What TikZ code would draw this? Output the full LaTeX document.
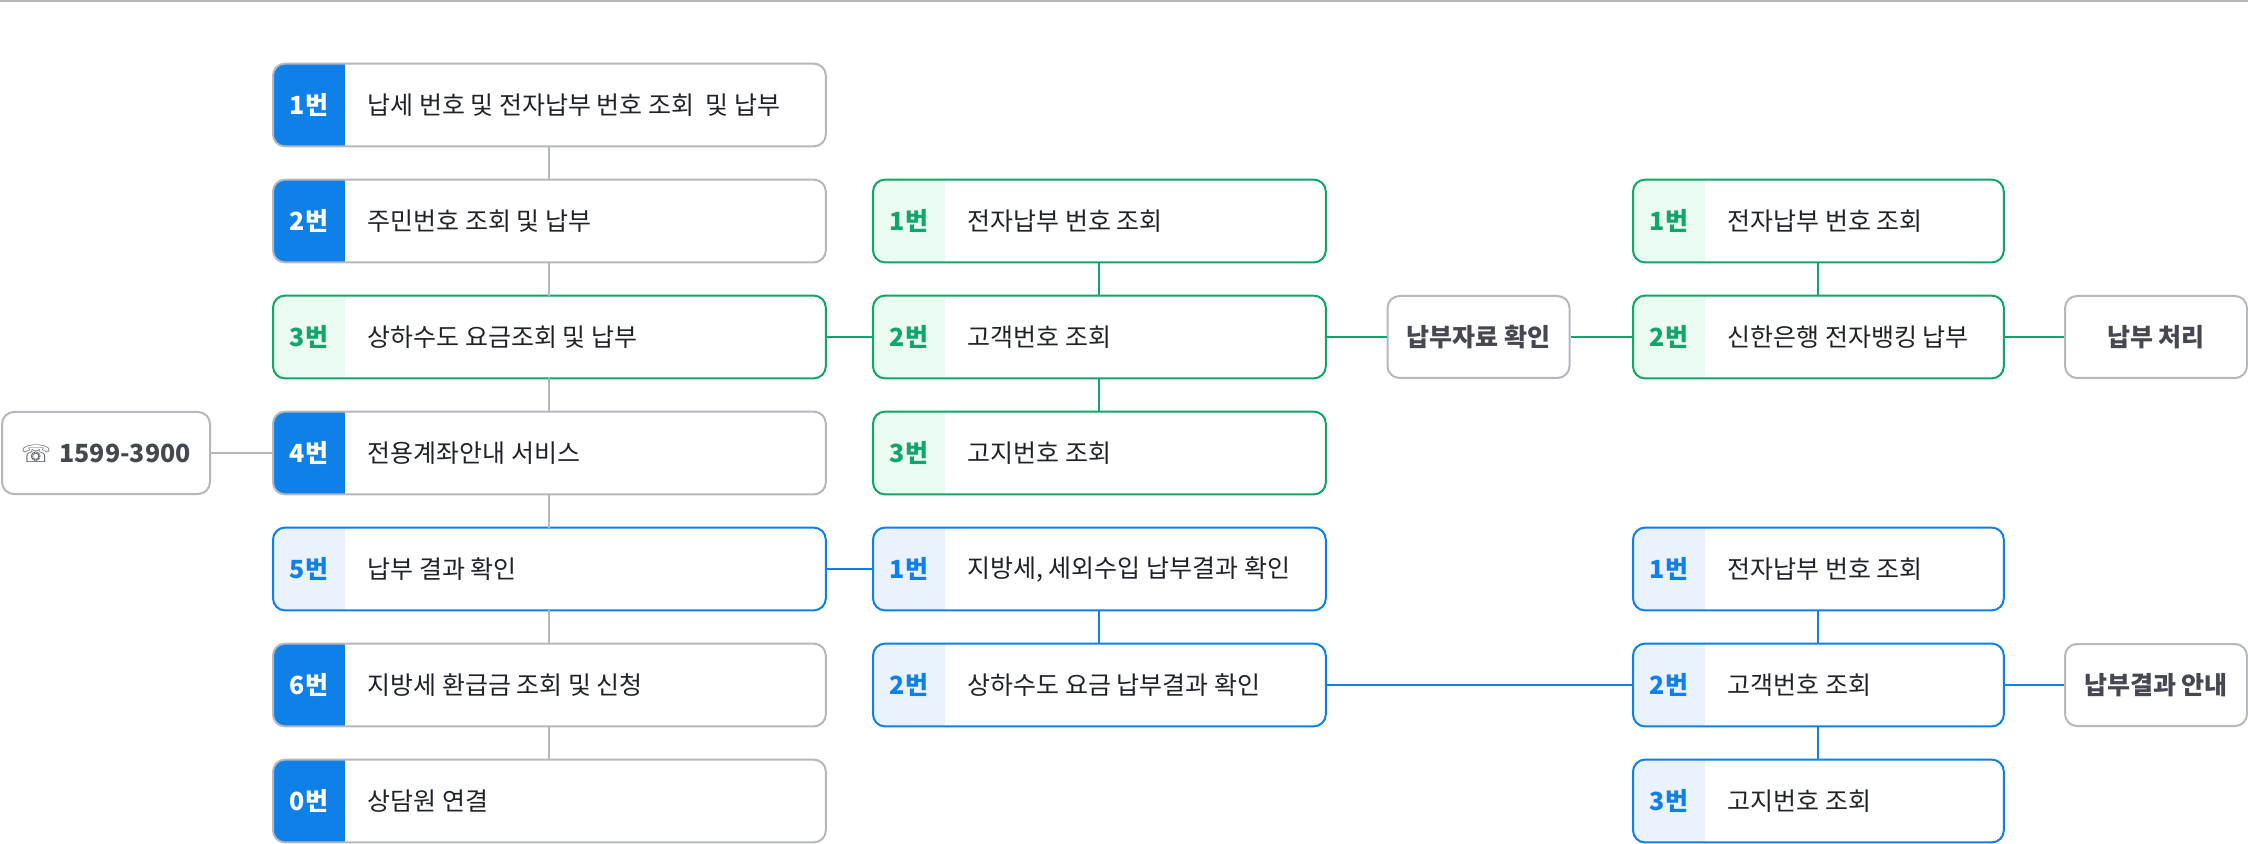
\documentclass[tikz,border=0pt]{standalone}
\usepackage{fontspec}
\setmainfont{Noto Sans CJK KR}
\newfontfamily\symf{DejaVu Sans}
\usetikzlibrary{calc}
\definecolor{bl}{HTML}{0E80E8}
\definecolor{bltag}{HTML}{EAF2FE}
\definecolor{gr}{HTML}{12A56A}
\definecolor{grtag}{HTML}{EAFBF1}
\definecolor{gy}{HTML}{B4B8BE}
\definecolor{txt}{HTML}{1F2329}
\definecolor{gtxt}{HTML}{444951}
% schemes: A = dark blue tag, G = green, B = light blue
\colorlet{Abd}{gy}\colorlet{Atag}{bl}\colorlet{Anum}{white}
\colorlet{Gbd}{gr}\colorlet{Gtag}{grtag}\colorlet{Gnum}{gr}
\colorlet{Bbd}{bl}\colorlet{Btag}{bltag}\colorlet{Bnum}{bl}
\tikzset{
  item/.style={rectangle, minimum height=41pt, inner sep=0pt},
  gnode/.style={draw=gy, line width=1pt, rounded corners=6pt, minimum height=41pt, minimum width=91pt, inner sep=0pt, text=gtxt, font=\fontsize{12.5}{14}\selectfont\bfseries, fill=white},
  lab/.style={text=txt, font=\fontsize{12.5}{14}\selectfont, inner sep=0pt},
  num/.style={font=\fontsize{12.5}{14}\selectfont\bfseries, inner sep=0pt},
  gline/.style={draw=gy, line width=1pt},
  grline/.style={draw=gr, line width=1pt},
  blline/.style={draw=bl, line width=1pt},
}
\newcommand\mkitem[7]{%
  \node[item, minimum width=#4*0.5pt, anchor=west] (#1) at (#2,#3) {};
  \begin{scope}
    \clip[rounded corners=6pt] (#1.south west) rectangle (#1.north east);
    \fill[#5tag] (#1.south west) rectangle ($(#1.north west)+(36pt,0)$);
  \end{scope}
  \draw[#5bd, rounded corners=6pt, line width=1pt] (#1.south west) rectangle (#1.north east);
  \node[num, text=#5num] at ($(#1.west)+(18pt,0)$) {#6};
  \node[lab, anchor=west] at ($(#1.west)+(47pt,0)$) {#7};
}
\begin{document}
\begin{tikzpicture}[x=0.5pt,y=-0.5pt]
\useasboundingbox (0,0) rectangle (2248,844);
\draw[gy, line width=1.2pt] (0,1) -- (2248,1);
% left column
\mkitem{L1}{273}{105}{552}{A}{1번}{납세 번호 및 전자납부 번호 조회 \ 및 납부}
\mkitem{L2}{273}{221}{552}{A}{2번}{주민번호 조회 및 납부}
\mkitem{L3}{273}{337}{552}{G}{3번}{상하수도 요금조회 및 납부}
\mkitem{L4}{273}{453}{552}{A}{4번}{전용계좌안내 서비스}
\mkitem{L5}{273}{569}{552}{B}{5번}{납부 결과 확인}
\mkitem{L6}{273}{685}{552}{A}{6번}{지방세 환급금 조회 및 신청}
\mkitem{L0}{273}{801}{552}{A}{0번}{상담원 연결}
% middle column
\mkitem{M1}{873}{221}{452}{G}{1번}{전자납부 번호 조회}
\mkitem{M2}{873}{337}{452}{G}{2번}{고객번호 조회}
\mkitem{M3}{873}{453}{452}{G}{3번}{고지번호 조회}
\mkitem{N1}{873}{569}{452}{B}{1번}{지방세, 세외수입 납부결과 확인}
\mkitem{N2}{873}{685}{452}{B}{2번}{상하수도 요금 납부결과 확인}
% right column
\mkitem{R1}{1633}{221}{370}{G}{1번}{전자납부 번호 조회}
\mkitem{R2}{1633}{337}{370}{G}{2번}{신한은행 전자뱅킹 납부}
\mkitem{S1}{1633}{569}{370}{B}{1번}{전자납부 번호 조회}
\mkitem{S2}{1633}{685}{370}{B}{2번}{고객번호 조회}
\mkitem{S3}{1633}{801}{370}{B}{3번}{고지번호 조회}
% gray nodes
\node[gnode, minimum width=104pt] (ph) at (106,453) {{\symf\fontsize{12}{14}\selectfont ☏}\,\,1599-3900};
\node[gnode] (chk) at (1478.5,337) {납부자료 확인};
\node[gnode] (proc) at (2156,337) {납부 처리};
\node[gnode] (res) at (2156,685) {납부결과 안내};
% connectors
\begin{scope}[on background layer/.style={}]
\end{scope}
\draw[gline] (L1) -- (L2); \draw[gline] (L2) -- (L3); \draw[gline] (L3) -- (L4);
\draw[gline] (L4) -- (L5); \draw[gline] (L5) -- (L6); \draw[gline] (L6) -- (L0);
\draw[gline] (ph) -- (L4);
\draw[grline] (L3) -- (M2); \draw[grline] (M1) -- (M2); \draw[grline] (M2) -- (M3);
\draw[grline] (M2) -- (chk); \draw[grline] (chk) -- (R2); \draw[grline] (R1) -- (R2);
\draw[grline] (R2) -- (proc);
\draw[blline] (L5) -- (N1); \draw[blline] (N1) -- (N2); \draw[blline] (N2) -- (S2);
\draw[blline] (S1) -- (S2); \draw[blline] (S2) -- (S3); \draw[blline] (S2) -- (res);
\end{tikzpicture}
\end{document}
